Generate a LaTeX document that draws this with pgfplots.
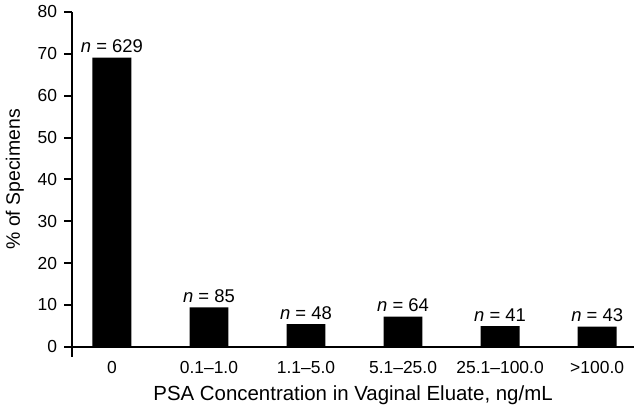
\documentclass[border=0pt]{standalone}
\usepackage{pgfplots}
\pgfplotsset{compat=1.18}
\usepackage{fontspec}
\setmainfont{Liberation Sans}
\begin{document}
\fontsize{17.5bp}{20bp}\selectfont
\begin{tikzpicture}
\begin{axis}[
  scale only axis,
  width=564bp, height=336bp,
  xmin=-0.41, xmax=5.38,
  ymin=0, ymax=80,
  axis lines=left,
  axis line style={line width=2bp, -},
  every tick/.style={line width=2bp, black},
  ytick={0,10,...,80},
  major tick length=8bp,
  tick align=outside,
  xtick=data,
  xticklabels={0, 0.1--1.0, 1.1--5.0, 5.1--25.0, 25.1--100.0, >100.0},
  x tick style={draw=none},
  xticklabel style={yshift=-1bp},
  yticklabel style={xshift=-1bp},
  /pgf/number format/assume math mode=true,
  ylabel={\% of Specimens},
  xlabel={PSA Concentration in Vaginal Eluate, ng/mL},
  ylabel style={font=\fontsize{19.5bp}{22bp}\selectfont, yshift=2bp},
  xlabel style={font=\fontsize{20.5bp}{23bp}\selectfont, yshift=0bp},
  ybar, bar width=39bp,
  point meta=explicit symbolic,
  nodes near coords={\textit{n} = \pgfplotspointmeta},
  every node near coord/.style={font=\fontsize{18.5bp}{21bp}\selectfont,
    anchor=base, inner sep=0pt, yshift=5bp},
  clip=false,
]
\addplot[fill=black, draw=none] coordinates {
  (0,69.1) [629]
  (1,9.4) [85]
  (2,5.4) [48]
  (3,7.2) [64]
  (4,4.9) [41]
  (5,4.8) [43]
};
\draw[line width=2bp] (rel axis cs:0,0) -- ++(0bp,-10bp);
\path (rel axis cs:1,0) ++(6bp,0bp);
\end{axis}
\end{tikzpicture}
\end{document}
